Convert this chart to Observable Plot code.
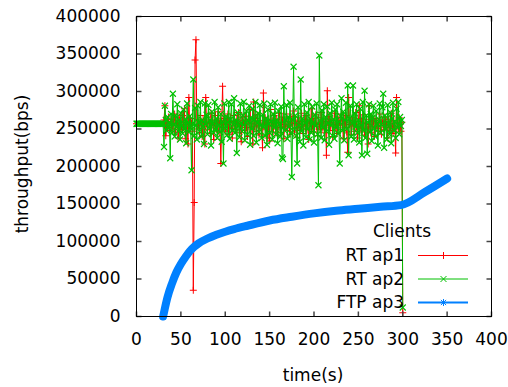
<!DOCTYPE html>
<html><head><meta charset="utf-8">
<script src="https://cdn.jsdelivr.net/npm/d3@7"></script>
<script src="https://cdn.jsdelivr.net/npm/@observablehq/plot@0.6"></script>
<style>
body{margin:0;background:#fff;}
#wrap{position:relative;width:508px;height:387px;}
#wrap svg{font-family:"DejaVu Sans",Verdana,sans-serif;}
#legend{position:absolute;left:0;top:0;}
#ylab{position:absolute;left:22px;top:164px;width:0;height:0;}
#ylab span{position:absolute;left:0;top:0;white-space:nowrap;font:17px "DejaVu Sans",Verdana,sans-serif;line-height:1;
  transform:translate(-50%,-50%) rotate(-90deg);}
</style></head><body><div id="wrap"><div id="ylab"><span></span></div></div>
<script>
// ---- data (values in kbps) ----
const xTicks = [0, 50, 100, 150, 200, 250, 300, 350, 400];
const yTicks = [0, 50000, 100000, 150000, 200000, 250000, 300000, 350000, 400000];
const seriesNames = ["RT ap1", "RT ap2", "FTP ap3"];
const legendTitle = "Clients";
const xLabel = "time(s)";
const yLabel = "throughput(bps)";

// RT ap1: one sample at t = 0, then 1-second samples from t = 30 to 300
const rtAp1Lead = [257];
const rtAp1 = [
  257,262,281,241,259,252,266,248,260,255, 263,250,258,270,246,257,261,238,266,254,
  259,249,268,252,277,237,262,256,230,292, 251,264,258,247,35,152,342,369,250,262,
  255,245,268,259,240,263,253,230,292,257, 249,266,258,244,271,255,262,236,259,268,
  250,257,273,246,261,204,258,307,252,264, 247,262,256,270,243,259,265,251,238,260,
  268,254,249,263,257,272,245,258,233,266, 255,261,248,267,252,240,263,258,276,250,
  257,230,286,253,264,247,269,255,242,261, 258,251,225,298,256,265,249,262,238,259,
  234,276,254,261,246,268,257,250,263,241, 259,271,252,245,266,256,237,262,253,270,
  248,260,255,243,267,258,251,274,246,262, 257,239,265,252,260,248,271,256,244,263,
  254,268,249,259,236,262,257,277,250,264, 246,258,269,253,241,265,256,249,272,258,
  251,263,245,260,215,301,255,267,248,259, 262,240,256,271,252,258,244,266,255,261,
  249,270,257,237,263,252,268,246,219,292, 256,261,243,265,254,259,247,272,253,238,
  260,281,251,264,246,258,269,242,257,263, 250,230,281,256,245,266,253,261,240,258,
  264,251,259,247,270,255,243,262,257,249, 266,252,260,238,263,255,248,271,257,244,
  261,253,218,292,258,250,265,256,247,259, 5
];
// RT ap2: 1-second samples from t = 0 to 300
const rtAp2 = [
  257,257,257,257,257,257,257,257,257,257, 257,257,257,257,257,257,257,257,257,257, 257,257,257,257,257,257,257,257,257,257,
  257,226,281,262,248,266,252,259,211,270, 245,297,256,240,268,253,283,247,262,236,
  271,255,244,276,250,263,231,284,258,246, 267,252,195,257,316,241,278,255,236,281,
  259,247,286,240,262,254,230,284,256,269, 243,282,251,262,228,273,257,245,286,249,
  264,238,279,255,246,270,233,260,204,284, 251,267,242,259,286,237,263,283,248,256,
  291,245,262,218,272,254,239,284,258,247, 268,286,235,259,274,243,261,281,229,265,
  250,277,241,263,286,232,258,271,246,282, 255,238,269,253,284,241,264,229,276,257,
  245,283,260,236,270,252,285,243,262,231, 274,256,240,280,212,210,307,248,262,282,
  237,266,253,285,244,186,262,333,250,268, 241,204,279,255,233,316,247,264,228,283,
  258,239,272,250,286,236,263,245,280,257, 232,269,254,284,243,175,348,261,238,275,
  252,283,235,266,247,280,258,229,271,255, 285,241,263,237,276,252,283,244,260,204,
  267,291,248,273,235,262,285,250,308,215, 264,281,240,258,308,236,271,253,283,245,
  262,232,277,255,215,286,248,301,238,268, 217,259,283,246,270,234,265,281,251,240,
  274,257,228,263,284,245,256,279,297,225, 268,250,236,282,257,243,272,231,264,285,
  248,260,238,277,252,286,243,266,254,262, 12
];
const ftpTime  = [30, 32, 35, 40, 45, 50, 55, 60, 65, 70, 80, 90, 100, 110, 125, 150, 175, 200, 225, 250, 275, 298, 325, 350];
const ftpValue = [0, 11, 26, 44, 59, 70, 79, 87, 93, 97.5, 104, 109, 113, 116.5, 121, 128, 133, 137.5, 141, 143.6, 146.3, 148.5, 166, 184];

// ---- styling ----
const RED = "#ff0000", GREEN = "#00c000", BLUE = "#0080ff";
const FONT = '"DejaVu Sans", Verdana, sans-serif';

const rt1 = [
  ...rtAp1Lead.map(v => ({t: 0, v: v * 1000})),
  ...rtAp1.map((v, i) => ({t: 30 + i, v: v * 1000}))
];
const rt2 = rtAp2.map((v, i) => ({t: i, v: v * 1000}));
const ftp = ftpTime.map((t, i) => ({t, v: ftpValue[i] * 1000}));

const symPlus = {draw(c) { const r = 3.5; c.moveTo(-r, 0); c.lineTo(r, 0); c.moveTo(0, -r); c.lineTo(0, r); }};
const symTimes = {draw(c) { const r = 3; c.moveTo(-r, -r); c.lineTo(r, r); c.moveTo(-r, r); c.lineTo(r, -r); }};
const symStar = {draw(c) { const r = 3.5; c.moveTo(-r, 0); c.lineTo(r, 0); c.moveTo(0, -r); c.lineTo(0, r);
  const q = 2.6; c.moveTo(-q, -q); c.lineTo(q, q); c.moveTo(-q, q); c.lineTo(q, -q); }};
const L = 5;
const tickRight = {draw(c) { c.moveTo(0, 0); c.lineTo(L, 0); }};
const tickLeft  = {draw(c) { c.moveTo(0, 0); c.lineTo(-L, 0); }};
const tickUp    = {draw(c) { c.moveTo(0, 0); c.lineTo(0, -L); }};
const tickDown  = {draw(c) { c.moveTo(0, 0); c.lineTo(0, L); }};

const chart = Plot.plot({
  width: 508, height: 387,
  marginLeft: 136, marginRight: 17, marginTop: 16, marginBottom: 71,
  style: {fontFamily: FONT, fontSize: "17px", color: "#000", background: "#fff"},
  x: {domain: [0, 400]},
  y: {domain: [0, 400000]},
  marks: [
    Plot.line(rt1, {x: "t", y: "v", stroke: RED, strokeWidth: 1}),
    Plot.dot(rt1, {x: "t", y: "v", symbol: symPlus, stroke: RED, fill: "none", strokeWidth: 1}),
    Plot.line(rt2, {x: "t", y: "v", stroke: GREEN, strokeWidth: 1}),
    Plot.dot(rt2, {x: "t", y: "v", symbol: symTimes, stroke: GREEN, fill: "none", strokeWidth: 1.1}),
    Plot.line(ftp, {x: "t", y: "v", stroke: BLUE, strokeWidth: 8, curve: "monotone-x"}),
    Plot.dot(ftp.slice(0, 1), {x: "t", y: "v", symbol: symStar, stroke: BLUE, fill: "none", strokeWidth: 1.2}),
    Plot.dot(yTicks, {y: d => d, frameAnchor: "left", symbol: tickRight, stroke: "#444", fill: "none"}),
    Plot.dot(yTicks, {y: d => d, frameAnchor: "right", symbol: tickLeft, stroke: "#444", fill: "none"}),
    Plot.dot(xTicks, {x: d => d, frameAnchor: "bottom", symbol: tickUp, stroke: "#444", fill: "none"}),
    Plot.dot(xTicks, {x: d => d, frameAnchor: "top", symbol: tickDown, stroke: "#444", fill: "none"}),
    Plot.frame({stroke: "#000"}),
    Plot.axisX({ticks: xTicks, tickSize: 0, tickPadding: 16, label: null, tickFormat: d => String(d)}),
    Plot.axisY({ticks: yTicks, tickSize: 0, tickPadding: 16, label: null, tickFormat: d => String(d)})
  ]
});
const wrap = document.getElementById("wrap");
wrap.insertBefore(chart, wrap.firstChild);
document.querySelector("#ylab span").textContent = yLabel;

// ---- overlay: x title and gnuplot-style key ----
const lg = d3.select(wrap).append("svg").attr("id", "legend")
  .attr("width", 508).attr("height", 387)
  .style("font-family", FONT).style("font-size", "17px");
lg.append("text").attr("x", 313).attr("y", 375).attr("text-anchor", "middle")
  .attr("dominant-baseline", "central").text(xLabel);
lg.append("text").attr("x", 402).attr("y", 231).attr("text-anchor", "middle")
  .attr("dominant-baseline", "central").text(legendTitle);
const colors = [RED, GREEN, BLUE];
const syms = [symPlus, symTimes, symStar].map(s => d3.symbol().type(s)());
seriesNames.forEach((name, i) => {
  const y = 255 + i * 23.5;
  lg.append("text").attr("x", 404).attr("y", y).attr("text-anchor", "end")
    .attr("dominant-baseline", "central").text(name);
  lg.append("line").attr("x1", 418).attr("x2", 468).attr("y1", y + 0.5).attr("y2", y + 0.5)
    .attr("stroke", colors[i]).attr("stroke-width", i === 2 ? 2 : 1);
  lg.append("path").attr("d", syms[i]).attr("transform", `translate(443.5,${y + 0.5})`)
    .attr("stroke", colors[i]).attr("fill", "none");
});
</script></body></html>
